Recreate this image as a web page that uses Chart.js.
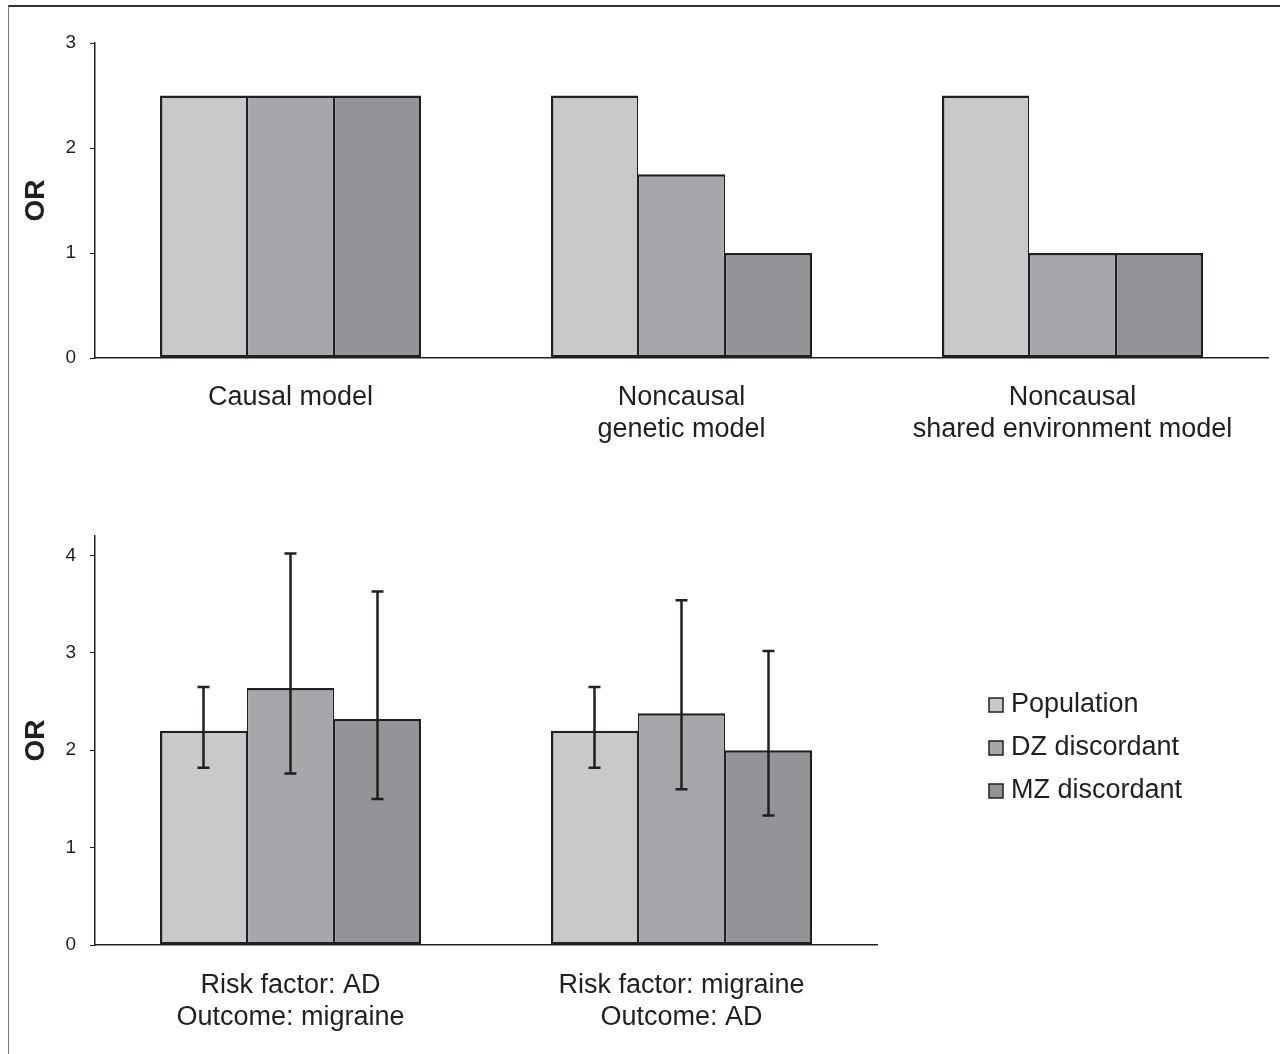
<!DOCTYPE html>
<html lang="en">
<head>
<meta charset="utf-8">
<title>OR - models and twin data</title>
<script src="https://cdn.jsdelivr.net/npm/chart.js@4.4.1/dist/chart.umd.min.js"></script>
<style>
  html, body { margin: 0; padding: 0; background: #fff; }
  body { width: 1280px; height: 1054px; position: relative; overflow: hidden; }
  #cadre { position: absolute; left: 8px; top: 5px; width: 1300px; height: 1100px;
           border-top: 2px solid #333; border-left: 1px solid #777; }
  #graphique-haut { position: absolute; left: 0; top: 0; }
  #graphique-bas { position: absolute; left: 0; top: 470px; }
</style>
</head>
<body>
<div id="cadre"></div>
<canvas id="graphique-haut" width="1280" height="470"></canvas>
<canvas id="graphique-bas" width="1280" height="584"></canvas>
<script>
// Données du graphique du haut (modèles théoriques)
const categoriesHaut = [["Causal model"], ["Noncausal", "genetic model"], ["Noncausal", "shared environment model"]];
const populationHaut = [2.5, 2.5, 2.5];
const dzHaut = [2.5, 1.75, 1.0];
const mzHaut = [2.5, 1.0, 1.0];
const ticksHaut = [0, 1, 2, 3];

// Données du graphique du bas (résultats observés)
const categoriesBas = [["Risk factor: AD", "Outcome: migraine"], ["Risk factor: migraine", "Outcome: AD"]];
const populationBas = [2.2, 2.2];
const populationBasse = [1.82, 1.82];
const populationHaute = [2.65, 2.65];
const dzBas = [2.64, 2.38];
const dzBasse = [1.76, 1.60];
const dzHaute = [4.02, 3.54];
const mzBas = [2.32, 2.0];
const mzBasse = [1.50, 1.33];
const mzHaute = [3.63, 3.02];
const ticksBas = [0, 1, 2, 3, 4];

const seriesNoms = ["Population", "DZ discordant", "MZ discordant"];
const couleurs = ["#c8c9cb", "#a6a7aa", "#939497"];
const ENCRE = "#231f20";
const POLICE = "'Liberation Sans', Arial, Helvetica, sans-serif";

// Bordures : trait plus fin entre deux barres voisines
const bordures = [
    {top: 2.5, bottom: 2.5, left: 2.5, right: 1.25},
    {top: 2.5, bottom: 2.5, left: 1.25, right: 1.25},
    {top: 2.5, bottom: 2.5, left: 1.25, right: 2.5},
];

function jeuDeDonnees(i, valeurs, basse, haute) {
    return {
        label: seriesNoms[i],
        data: valeurs,
        backgroundColor: couleurs[i],
        borderColor: ENCRE,
        borderWidth: bordures[i],
        borderSkipped: false,
        barPercentage: 1.0,
        categoryPercentage: 0.6675,
        erreurBasse: basse,
        erreurHaute: haute,
    };
}

// Barres d'erreur (IC) dessinées avec l'échelle y du graphique
const pluginBarresErreur = {
    id: "barresErreur",
    afterDatasetsDraw(chart) {
        const ctx = chart.ctx;
        const echelleY = chart.scales.y;
        chart.data.datasets.forEach((dataset, i) => {
            if (!dataset.erreurBasse) return;
            const meta = chart.getDatasetMeta(i);
            meta.data.forEach((barre, j) => {
                const yBas = echelleY.getPixelForValue(dataset.erreurBasse[j]);
                const yHaut = echelleY.getPixelForValue(dataset.erreurHaute[j]);
                ctx.save();
                ctx.strokeStyle = ENCRE;
                ctx.lineWidth = 2.5;
                ctx.beginPath();
                ctx.moveTo(barre.x, yBas);
                ctx.lineTo(barre.x, yHaut);
                ctx.moveTo(barre.x - 6, yHaut);
                ctx.lineTo(barre.x + 6, yHaut);
                ctx.moveTo(barre.x - 6, yBas);
                ctx.lineTo(barre.x + 6, yBas);
                ctx.stroke();
                ctx.restore();
            });
        });
    },
};

// Légende à droite du graphique du bas
const pluginLegende = {
    id: "legendeDroite",
    afterDraw(chart, args, opts) {
        if (!opts || opts.x === undefined) return;
        const ctx = chart.ctx;
        ctx.save();
        ctx.font = `27px ${POLICE}`;
        ctx.textBaseline = "middle";
        chart.data.datasets.forEach((ds, i) => {
            const y = opts.y + i * opts.pas;
            ctx.fillStyle = ds.backgroundColor;
            ctx.fillRect(opts.x, y - 7, 14, 14);
            ctx.strokeStyle = ENCRE;
            ctx.lineWidth = 1.5;
            ctx.strokeRect(opts.x, y - 7, 14, 14);
            ctx.fillStyle = ENCRE;
            ctx.fillText(ds.label, opts.x + 22, y);
        });
        ctx.restore();
    },
};

function echelles(maxY, ticksY, hauteurX, paddingX) {
    return {
        x: {
            grid: {display: false, drawTicks: false},
            border: {display: true, color: ENCRE, width: 1.5},
            ticks: {
                color: ENCRE,
                padding: paddingX,
                maxRotation: 0,
                autoSkip: false,
                font: {family: POLICE, size: 27, lineHeight: 1.19},
            },
            afterFit: s => { s.height = hauteurX; },
        },
        y: {
            min: 0,
            max: maxY,
            grid: {drawOnChartArea: false, drawTicks: true, tickLength: 5, color: ENCRE, lineWidth: 1},
            border: {display: true, color: ENCRE, width: 1.5},
            ticks: {
                stepSize: 1,
                color: ENCRE,
                padding: 14,
                font: {family: POLICE, size: 19},
            },
            afterBuildTicks: s => { s.ticks = ticksY.map(v => ({value: v})); },
            afterFit: s => { s.width = 95; },
            title: {
                display: true,
                text: "OR",
                color: ENCRE,
                padding: {top: 19, bottom: 0},
                font: {family: POLICE, size: 28, weight: "bold"},
            },
        },
    };
}

new Chart(document.querySelector("#graphique-haut"), {
    type: "bar",
    data: {
        labels: categoriesHaut,
        datasets: [
            jeuDeDonnees(0, populationHaut),
            jeuDeDonnees(1, dzHaut),
            jeuDeDonnees(2, mzHaut),
        ],
    },
    options: {
        responsive: false,
        animation: false,
        layout: {padding: {top: 43, right: 12, bottom: 0, left: 0}},
        plugins: {legend: {display: false}, tooltip: {enabled: false}},
        scales: echelles(3, ticksHaut, 112, 23),
    },
    plugins: [pluginBarresErreur],
});

new Chart(document.querySelector("#graphique-bas"), {
    type: "bar",
    data: {
        labels: categoriesBas,
        datasets: [
            jeuDeDonnees(0, populationBas, populationBasse, populationHaute),
            jeuDeDonnees(1, dzBas, dzBasse, dzHaute),
            jeuDeDonnees(2, mzBas, mzBasse, mzHaute),
        ],
    },
    options: {
        responsive: false,
        animation: false,
        layout: {padding: {top: 66, right: 403, bottom: 0, left: 0}},
        plugins: {
            legend: {display: false},
            tooltip: {enabled: false},
            legendeDroite: {x: 989, y: 235, pas: 43},
        },
        scales: echelles(4.2, ticksBas, 109, 24),
    },
    plugins: [pluginBarresErreur, pluginLegende],
});
</script>
</body>
</html>
